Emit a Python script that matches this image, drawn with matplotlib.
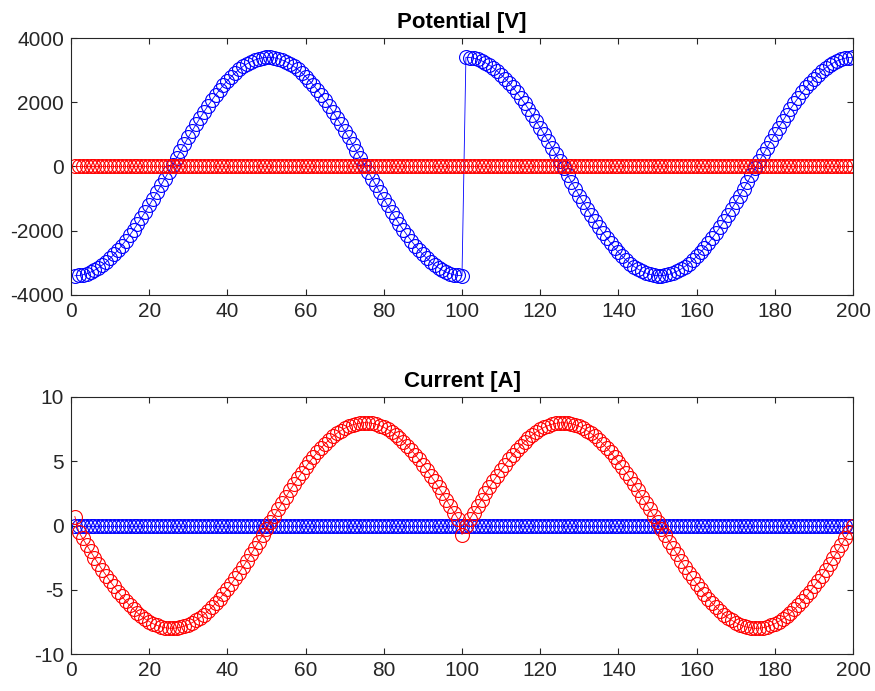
import matplotlib
matplotlib.use("Agg")
import matplotlib.pyplot as plt
import numpy as np

plt.rcParams["font.family"] = ["Liberation Sans", "DejaVu Sans"]
plt.rcParams["axes.unicode_minus"] = False

# sample index 1..200
x = list(range(1, 201))

# blue potential series [V]
pot_blue = [
    -3400, -3393, -3373, -3339, -3291, -3230, -3156, -3070, -2971, -2860,
    -2738, -2605, -2461, -2307, -2144, -1972, -1792, -1605, -1412, -1213,
    -1010, -802, -590, -377, -162, 54, 269, 484, 696, 906,
    1112, 1314, 1510, 1700, 1883, 2059, 2227, 2385, 2534, 2673,
    2801, 2917, 3022, 3115, 3195, 3262, 3316, 3357, 3385, 3398,
    3398, 3385, 3357, 3316, 3262, 3195, 3115, 3022, 2917, 2801,
    2673, 2534, 2385, 2227, 2059, 1883, 1700, 1510, 1314, 1112,
    906, 696, 484, 269, 54, -162, -377, -590, -802, -1010,
    -1213, -1412, -1605, -1792, -1972, -2144, -2307, -2461, -2605, -2738,
    -2860, -2971, -3070, -3156, -3230, -3291, -3339, -3373, -3393, -3400,
    3400, 3393, 3373, 3339, 3291, 3230, 3156, 3070, 2971, 2860,
    2738, 2605, 2461, 2307, 2144, 1972, 1792, 1605, 1412, 1213,
    1010, 802, 590, 377, 162, -54, -269, -484, -696, -906,
    -1112, -1314, -1510, -1700, -1883, -2059, -2227, -2385, -2534, -2673,
    -2801, -2917, -3022, -3115, -3195, -3262, -3316, -3357, -3385, -3398,
    -3398, -3385, -3357, -3316, -3262, -3195, -3115, -3022, -2917, -2801,
    -2673, -2534, -2385, -2227, -2059, -1883, -1700, -1510, -1314, -1112,
    -906, -696, -484, -269, -54, 162, 377, 590, 802, 1010,
    1213, 1412, 1605, 1792, 1972, 2144, 2307, 2461, 2605, 2738,
    2860, 2971, 3070, 3156, 3230, 3291, 3339, 3373, 3393, 3400,
]

# red potential series [V] stays flat at zero
pot_red = [0] * 200

# red current series [A]
cur_red = [
    0.70, -0.51, -1.01, -1.51, -2.01, -2.50, -2.97, -3.44, -3.89, -4.33,
    -4.74, -5.14, -5.52, -5.88, -6.21, -6.52, -6.80, -7.05, -7.28, -7.47,
    -7.64, -7.77, -7.88, -7.95, -7.99, -8.00, -7.97, -7.92, -7.83, -7.71,
    -7.56, -7.38, -7.17, -6.93, -6.66, -6.37, -6.05, -5.70, -5.33, -4.95,
    -4.54, -4.11, -3.66, -3.21, -2.74, -2.25, -1.76, -1.26, -0.76, -0.25,
    0.25, 0.76, 1.26, 1.76, 2.25, 2.74, 3.21, 3.66, 4.11, 4.54,
    4.95, 5.33, 5.70, 6.05, 6.37, 6.66, 6.93, 7.17, 7.38, 7.56,
    7.71, 7.83, 7.92, 7.97, 8.00, 7.99, 7.95, 7.88, 7.77, 7.64,
    7.47, 7.28, 7.05, 6.80, 6.52, 6.21, 5.88, 5.52, 5.14, 4.74,
    4.33, 3.89, 3.44, 2.97, 2.50, 2.01, 1.51, 1.01, 0.51, -0.70,
    0.00, 0.51, 1.01, 1.51, 2.01, 2.50, 2.97, 3.44, 3.89, 4.33,
    4.74, 5.14, 5.52, 5.88, 6.21, 6.52, 6.80, 7.05, 7.28, 7.47,
    7.64, 7.77, 7.88, 7.95, 7.99, 8.00, 7.97, 7.92, 7.83, 7.71,
    7.56, 7.38, 7.17, 6.93, 6.66, 6.37, 6.05, 5.70, 5.33, 4.95,
    4.54, 4.11, 3.66, 3.21, 2.74, 2.25, 1.76, 1.26, 0.76, 0.25,
    -0.25, -0.76, -1.26, -1.76, -2.25, -2.74, -3.21, -3.66, -4.11, -4.54,
    -4.95, -5.33, -5.70, -6.05, -6.37, -6.66, -6.93, -7.17, -7.38, -7.56,
    -7.71, -7.83, -7.92, -7.97, -8.00, -7.99, -7.95, -7.88, -7.77, -7.64,
    -7.47, -7.28, -7.05, -6.80, -6.52, -6.21, -5.88, -5.52, -5.14, -4.74,
    -4.33, -3.89, -3.44, -2.97, -2.50, -2.01, -1.51, -1.01, -0.51, 0.00,
]

# blue current series [A] stays flat at zero
cur_blue = [0] * 200

TEXT = "#262626"
MS = 10


def style_axes(ax, title, ylim, yticks):
    ax.set_xlim(0, 200)
    ax.set_xticks(range(0, 201, 20))
    ax.set_ylim(*ylim)
    ax.set_yticks(yticks)
    ax.set_title(title, fontsize=16, fontweight="bold", pad=7, color="black")
    ax.tick_params(direction="in", length=4.5, width=0.8, top=True, right=True,
                   labelsize=15, colors=TEXT, pad=5)
    for s in ax.spines.values():
        s.set_color(TEXT)
        s.set_linewidth(0.8)


fig = plt.figure(figsize=(8.75, 6.91), dpi=100)
ax1 = fig.add_axes([0.0811, 0.5731, 0.8938, 0.3719])
ax2 = fig.add_axes([0.0811, 0.0535, 0.8938, 0.3720])

ax1.plot(x, pot_blue, "o-", color="#0000ff", mfc="none", ms=MS, mew=0.8, lw=0.6)
ax1.plot(x, pot_red, "o-", color="#ff0000", mfc="none", ms=MS, mew=0.8, lw=0.6)
style_axes(ax1, "Potential [V]", (-4000, 4000), range(-4000, 4001, 2000))

ax2.plot(x, cur_blue, "o-", color="#0000ff", mfc="none", ms=MS, mew=0.8, lw=0.6)
ax2.plot(x, cur_red, "o-", color="#ff0000", mfc="none", ms=MS, mew=0.8, lw=0.6)
style_axes(ax2, "Current [A]", (-10, 10), range(-10, 11, 5))

fig.savefig("out.png", dpi=100)
